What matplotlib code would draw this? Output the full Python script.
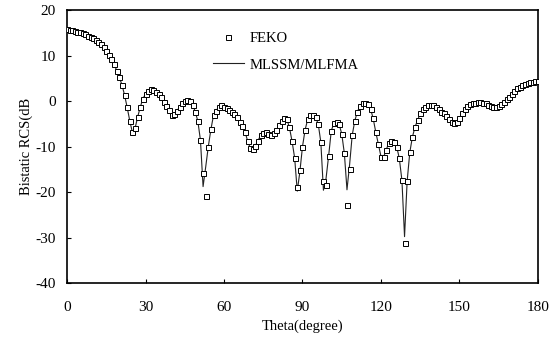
import matplotlib
matplotlib.use("Agg")
import matplotlib.pyplot as plt
import numpy as np

plt.rcParams['font.family'] = ['Liberation Serif', 'DejaVu Serif']
plt.rcParams['axes.unicode_minus'] = False

# angles (degree), 1 degree step
theta = np.arange(0, 181, 1)

# FEKO reference (dB)
feko = [15.8, 15.7, 15.6, 15.5, 15.3, 15.1, 14.9, 14.7, 14.4, 14.1,
        13.8, 13.5, 13.1, 12.5, 11.8, 11.1, 10.2, 9.2, 8.1, 6.7,
        5.2, 3.6, 1.3, -1.4, -4.4, -6.9, -6.0, -3.5, -1.3, 0.5,
        1.6, 2.3, 2.6, 2.5, 2.1, 1.6, 0.8, -0.1, -1.0, -2.0,
        -3.0, -2.9, -2.2, -1.3, -0.5, 0.0, 0.2, 0.0, -0.8, -2.3,
        -4.4, -8.6, -15.9, -20.9, -10.0, -6.2, -3.1, -2.1, -1.3, -0.9,
        -1.2, -1.6, -1.9, -2.3, -2.9, -3.6, -4.5, -5.5, -6.7, -8.7,
        -10.3, -10.6, -9.8, -8.7, -7.5, -7.0, -6.9, -7.2, -7.5, -7.1,
        -6.4, -5.3, -4.4, -3.8, -3.9, -5.8, -8.8, -12.5, -18.8, -15.2,
        -10.0, -6.3, -4.0, -3.0, -3.0, -3.6, -5.0, -9.0, -17.5, -18.5,
        -12.0, -6.5, -4.9, -4.5, -5.1, -7.2, -11.5, -22.9, -15.0, -7.5,
        -4.3, -2.3, -1.1, -0.5, -0.4, -0.7, -1.7, -3.8, -6.8, -9.5,
        -12.2, -12.3, -10.7, -9.2, -8.7, -9.0, -10.0, -12.6, -17.4, -31.3,
        -17.6, -11.3, -7.9, -5.7, -4.2, -2.7, -1.8, -1.2, -0.9, -0.8,
        -0.9, -1.2, -1.8, -2.3, -2.7, -3.3, -3.9, -4.5, -4.8, -4.5,
        -3.7, -2.7, -1.8, -1.1, -0.7, -0.5, -0.4, -0.3, -0.3, -0.4,
        -0.5, -0.8, -1.0, -1.2, -1.2, -1.1, -0.7, -0.1, 0.5, 1.0,
        1.6, 2.2, 2.8, 3.2, 3.5, 3.8, 4.0, 4.2, 4.3, 4.4,
        4.5]

# MLSSM/MLFMA result (dB)
mlssm = [15.8, 15.7, 15.6, 15.5, 15.3, 15.1, 14.9, 14.7, 14.4, 14.1,
         13.8, 13.5, 13.1, 12.5, 11.8, 11.1, 10.2, 9.2, 8.1, 6.7,
         5.2, 3.6, 1.3, -1.4, -4.4, -6.9, -6.0, -3.5, -1.3, 0.5,
         1.6, 2.3, 2.6, 2.5, 2.1, 1.6, 0.8, -0.1, -1.0, -2.0,
         -3.0, -2.9, -2.2, -1.3, -0.5, 0.0, 0.2, 0.0, -0.8, -2.3,
         -4.4, -8.6, -18.8, -14.5, -10.0, -6.2, -3.1, -2.1, -1.3, -0.9,
         -1.2, -1.6, -1.9, -2.3, -2.9, -3.6, -4.5, -5.5, -6.7, -8.7,
         -10.3, -10.6, -9.8, -8.7, -7.5, -7.0, -6.9, -7.2, -7.5, -7.1,
         -6.4, -5.3, -4.4, -3.8, -3.9, -5.8, -8.8, -12.5, -19.8, -15.5,
         -10.0, -6.3, -4.0, -3.0, -3.0, -3.6, -5.0, -9.0, -19.6, -17.0,
         -12.0, -6.5, -4.9, -4.5, -5.1, -7.2, -11.5, -19.5, -14.0, -7.5,
         -4.3, -2.3, -1.1, -0.5, -0.4, -0.7, -1.7, -3.8, -6.8, -9.5,
         -12.2, -12.3, -10.7, -9.2, -8.7, -9.0, -10.0, -12.6, -17.4, -29.8,
         -17.6, -11.3, -7.9, -5.7, -4.2, -2.7, -1.8, -1.2, -0.9, -0.8,
         -0.9, -1.2, -1.8, -2.3, -2.7, -3.3, -3.9, -4.5, -4.8, -4.5,
         -3.7, -2.7, -1.8, -1.1, -0.7, -0.5, -0.4, -0.3, -0.3, -0.4,
         -0.5, -0.8, -1.0, -1.2, -1.2, -1.1, -0.7, -0.1, 0.5, 1.0,
         1.6, 2.2, 2.8, 3.2, 3.5, 3.8, 4.0, 4.2, 4.3, 4.4,
         4.5]

xticks = [0, 30, 60, 90, 120, 150, 180]
yticks = [-40, -30, -20, -10, 0, 10, 20]

fig = plt.figure(figsize=(5.52, 3.41), dpi=100)
ax = fig.add_axes([0.1214, 0.170, 0.8532, 0.8003])

ax.plot(theta, feko, linestyle='none', marker='s', markersize=3.6,
        markerfacecolor='white', markeredgecolor='black',
        markeredgewidth=0.7, label='FEKO', zorder=3)
ax.plot(theta, mlssm, color='#222222', linewidth=0.8,
        label='MLSSM/MLFMA', zorder=2)

ax.set_xlim(0, 180)
ax.set_ylim(-40, 20)
ax.set_xticks(xticks)
ax.set_yticks(yticks)
ax.tick_params(direction='in', length=3, width=0.8, labelsize=11)
ax.tick_params(axis='x', pad=13)
ax.tick_params(axis='y', pad=8)
for s in ax.spines.values():
    s.set_linewidth(1.2)

ax.set_xlabel('Theta(degree)', fontsize=10.5, labelpad=4)
ax.set_ylabel('Bistatic RCS(dB', fontsize=10.5, labelpad=2)

ax.legend(loc='upper left', bbox_to_anchor=(0.31, 0.92), frameon=False,
          fontsize=10.5, handlelength=2.1, handletextpad=0.4,
          labelspacing=0.9, borderpad=0, borderaxespad=0, markerscale=1.0)

fig.savefig('out.png', dpi=100)
